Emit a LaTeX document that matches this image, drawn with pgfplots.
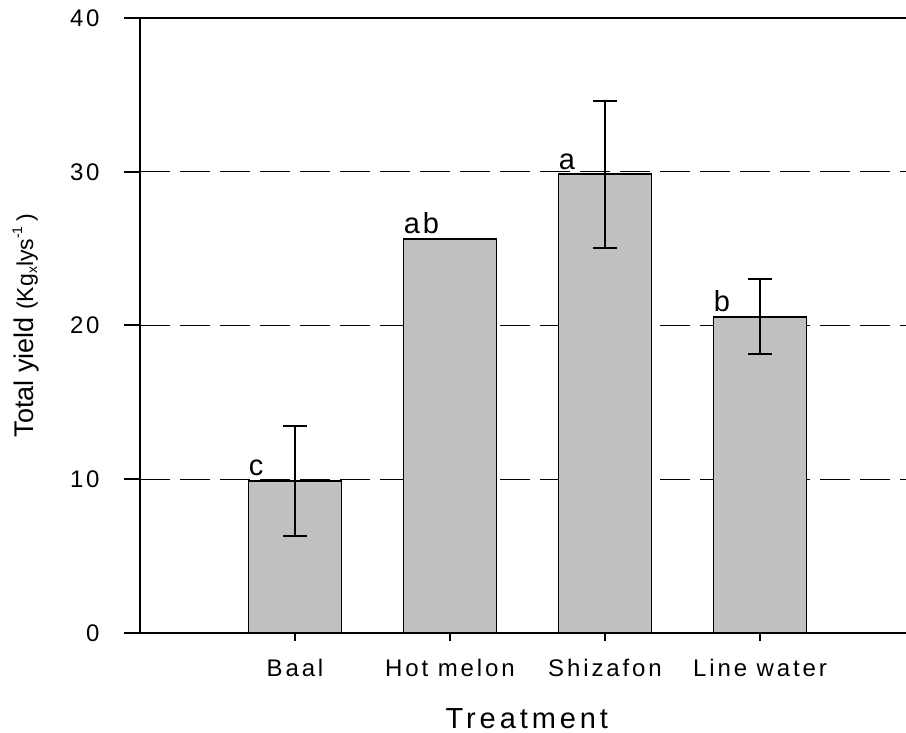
\documentclass[border=0pt]{standalone}
\usepackage{pgfplots}
\pgfplotsset{compat=1.18}
\usepackage{fontspec}
\setmainfont{Liberation Sans}
\definecolor{barfill}{RGB}{192,192,192}
\begin{document}
\begin{tikzpicture}
\begin{axis}[
  scale only axis,
  width=383pt, height=307.5pt,
  at={(0,0)}, anchor=south west,
  xmin=0, xmax=4.942, ymin=0, ymax=40,
  axis x line=box, axis y line=left,
  axis line style={-, line width=1pt, black},
  xtick={1,2,3,4},
  xticklabels={Baal, Hot melon, Shizafon, Line water},
  ytick={0,10,20,30,40},
  yticklabels={0,10,20,30,40},
  tick align=outside,
  xtick pos=bottom, ytick pos=left,
  major tick length=8pt,
  tick style={line width=1pt, black},
  xtick style={/pgfplots/major tick length=4pt},
  ymajorgrids,
  grid style={dash pattern=on 15pt off 5pt, line width=0.65pt, black},
  yticklabel style={font=\fontsize{12}{14}\selectfont\addfontfeature{LetterSpace=12}, anchor=east, inner sep=0pt, xshift=-12pt},
  xticklabel style={font=\fontsize{12}{14}\selectfont\addfontfeature{LetterSpace=12}, anchor=base, inner sep=0pt, yshift=-13.85pt},
  xlabel={Treatment},
  xlabel style={font=\fontsize{14.5}{17}\selectfont\addfontfeature{LetterSpace=13.5}, at={(axis description cs:0.505,-0.156)}, anchor=base, inner sep=0pt},
  ylabel={Total yield {\fontsize{11.5}{13}\selectfont(Kg\raisebox{-2pt}{\fontsize{7}{8}\selectfont x}lys\raisebox{5.5pt}{\fontsize{7}{8}\selectfont -1}\hspace{2.5pt})}},
  ylabel style={font=\fontsize{13.5}{16}\selectfont, at={(axis description cs:-0.167,0.5)}, anchor=north, rotate=0, inner sep=0pt},
  clip=false,
]
\addplot[ybar, bar width=0.6, bar shift=0pt, fill=barfill, draw=black, line width=0.9pt,
  error bars/.cd, y dir=both, y explicit,
  error bar style={line width=1pt, black},
  error mark options={rotate=90, mark size=6pt, line width=1pt, black}]
  table[x=x, y=y, y error=e] {
x y e
1 9.89 3.55
2 25.65 0
3 29.83 4.80
4 20.57 2.43
};
\node[anchor=base west, inner sep=0pt, font=\fontsize{14.5}{17}\selectfont, yshift=2.5pt] at (axis cs:0.7,9.89) {c};
\node[anchor=base west, inner sep=0pt, font=\fontsize{14.5}{17}\selectfont\addfontfeature{LetterSpace=10}, yshift=2.5pt] at (axis cs:1.7,25.65) {ab};
\node[anchor=base west, inner sep=0pt, font=\fontsize{14.5}{17}\selectfont, yshift=2.5pt] at (axis cs:2.7,29.83) {a};
\node[anchor=base west, inner sep=0pt, font=\fontsize{14.5}{17}\selectfont, yshift=2.5pt] at (axis cs:3.7,20.57) {b};
\end{axis}
\pgfresetboundingbox
\path (-70pt,-50pt) rectangle (383pt,316.5pt);
\end{tikzpicture}
\end{document}
